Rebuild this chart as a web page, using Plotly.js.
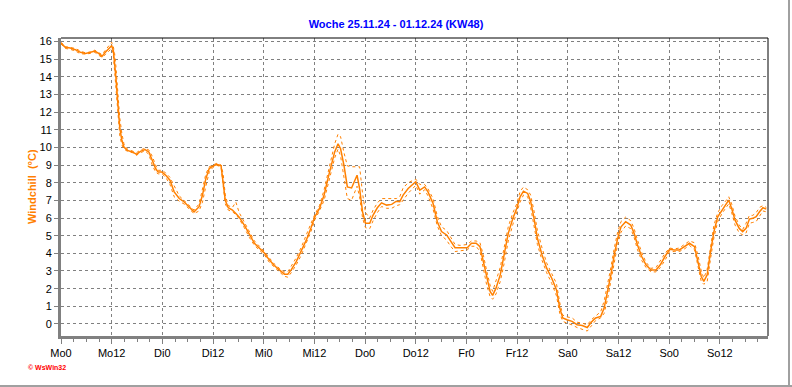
<!DOCTYPE html>
<html>
<head>
<meta charset="utf-8">
<script src="https://cdn.plot.ly/plotly-3.0.1.min.js"></script>
<style>
  html, body { margin: 0; padding: 0; background: #fff; }
  #wrap { position: relative; width: 792px; height: 387px; overflow: hidden; }
  #chart { width: 792px; height: 387px; }
  .frameR { position: absolute; left: 788px; top: 0; width: 2px; height: 387px; background: #a0a0a0; }
  .frameB { position: absolute; left: 0; top: 385px; width: 792px; height: 2px; background: #a0a0a0; }
</style>
</head>
<body>
<div id="wrap">
  <div id="chart"></div>
  <div class="frameR"></div>
  <div class="frameB"></div>
</div>
<script>
// Hours since Monday 00:00
const hours = [
  0, 1, 2.2, 3.4, 4.6, 5.8, 7, 8, 9, 9.7,
  10.5, 11.3, 12, 12.4, 12.7, 13, 13.3, 13.6, 13.9, 14.4,
  14.9, 15.7, 16.9, 17.9, 18.8, 19.9, 20.8, 21.6, 22.4, 23,
  23.9, 24.8, 25.8, 26.8, 28, 29.1, 30.3, 31.5, 32.7, 33.5,
  34.3, 35.1, 35.9, 36.9, 37.9, 38.4, 38.9, 39.6, 40.6, 41.4,
  42.2,
  43.4, 44.6, 45.8, 47, 48.2, 49.3, 50.5, 51.7, 52.9, 53.7,
  54.5, 55.7, 56.9, 58.1, 59.2, 60.1, 61.2, 62.3, 63.2, 64,
  64.8, 65.6, 66.2, 67, 67.8, 68.8, 69.5, 70.1, 70.7, 71.4,
  72.1, 73.1, 73.9, 74.9, 75.9, 77.1, 78.3, 79.4, 80.2, 81,
  82.2, 83.4,
  84, 84.95, 86.1, 86.9, 88.1, 89.1, 90.1, 91.3, 92.1, 93.3,
  94.5, 96.2, 97.2, 98.3, 99.2, 100, 100.8, 101.6, 102.2, 103,
  104, 104.9, 105.9, 107, 107.9, 108.7, 109.5, 110.5, 111.2, 112,
  112.8, 113.9, 115, 116.2, 117.3, 118.1, 118.8, 119.8, 121, 122.2,
  123.4, 124.6, 125.6,
  126.6, 127.8, 128.6, 129.4, 130.2, 131, 131.8, 132.6, 133.7, 134.9,
  135.7, 136.5, 137.5, 138.5, 139.7, 140.9, 141.9, 143, 144.1, 145.2,
  146.4, 147.6, 148.8, 150, 150.8, 151.6, 152.2, 153, 153.8, 154.6,
  155.5, 156.5, 157.5, 158.1, 158.8, 159.6, 160.6, 161.4, 162.2, 163,
  163.8, 164.6, 165.4, 166.2, 167
];

// Windchill mean (°C)
const windchill = [
  15.9, 15.66, 15.62, 15.53, 15.38, 15.32, 15.38, 15.45, 15.3, 15.15,
  15.38, 15.6, 15.75, 15.47, 14.8, 13.97, 13.0, 12.0, 11.15, 10.4,
  10.02, 9.83, 9.74, 9.6, 9.77, 9.87, 9.74, 9.27, 8.8, 8.6,
  8.6, 8.42, 8.14, 7.48, 7.1, 6.92, 6.64, 6.35, 6.64, 7.3,
  8.23, 8.8, 8.93, 9.04, 8.95, 8.05, 7.0, 6.58, 6.45, 6.26,
  6.05,
  5.6, 5.04, 4.57, 4.29, 4.0, 3.63, 3.31, 3.06, 2.82, 2.82,
  3.06, 3.53, 4.1, 4.76, 5.45, 6.07, 6.54, 7.3, 8.23, 9.08,
  9.74, 10.2, 9.92, 8.98, 7.76, 7.7, 8.05, 8.42, 7.67, 6.35,
  5.7, 5.7, 6.17, 6.58, 6.86, 6.73, 6.77, 6.95, 6.92, 7.3,
  7.67, 7.95,
  8.05, 7.58, 7.76, 7.48, 6.82, 5.79, 5.23, 5.04, 4.76, 4.32,
  4.32, 4.32, 4.57, 4.57, 4.38, 3.53, 2.59, 1.84, 1.62, 2.03,
  2.78, 3.82, 5.13, 5.98, 6.54, 7.2, 7.52, 7.39, 6.95, 5.98,
  4.85, 3.91, 3.16, 2.59, 1.94, 0.9, 0.34, 0.24, 0.15, -0.04,
  -0.09, -0.2, 0.11,
  0.34, 0.43, 0.9, 1.75, 2.78, 3.91, 4.85, 5.5, 5.79, 5.6,
  5.13, 4.47, 3.82, 3.35, 3.06, 3.06, 3.35, 3.82, 4.23, 4.19,
  4.19, 4.38, 4.57, 4.38, 3.53, 2.69, 2.41, 2.78, 4.1, 5.23,
  6.07, 6.45, 6.82, 7.01, 6.54, 5.88, 5.41, 5.23, 5.41, 5.94,
  5.98, 6.07, 6.35, 6.58, 6.5
];

// Windchill maximum (°C)
const windchillMax = [
  15.95, 15.7, 15.65, 15.6, 15.45, 15.35, 15.4, 15.5, 15.35, 15.25,
  15.5, 15.75, 15.95, 15.7, 15.3, 14.6, 13.6, 12.6, 11.7, 10.8,
  10.2, 9.9, 9.8, 9.7, 9.85, 9.95, 9.85, 9.5, 9.0, 8.7,
  8.7, 8.55, 8.3, 7.8, 7.25, 7.0, 6.75, 6.45, 6.8, 7.6,
  8.5, 8.9, 9.0, 9.1, 9.0, 8.5, 7.3, 6.7, 6.6, 6.9,
  6.3,
  5.75, 5.2, 4.7, 4.4, 4.1, 3.75, 3.4, 3.15, 2.95, 2.95,
  3.25, 3.75, 4.35, 5.0, 5.7, 6.2, 6.7, 7.6, 8.6, 9.5,
  10.2, 10.75, 10.6, 9.7, 8.95, 8.9, 8.9, 8.9, 8.9, 7.4,
  6.3, 6.0, 6.45, 6.85, 7.1, 7.1, 7.1, 7.1, 7.2, 7.7,
  8.0, 8.15,
  8.2, 7.9, 7.9, 7.65, 7.1, 6.1, 5.5, 5.3, 5.0, 4.5,
  4.45, 4.5, 4.7, 4.7, 4.6, 3.9, 3.0, 2.2, 1.85, 2.4,
  3.2, 4.3, 5.5, 6.3, 6.8, 7.5, 7.75, 7.6, 7.3, 6.4,
  5.3, 4.3, 3.45, 2.85, 2.3, 1.2, 0.5, 0.4, 0.35, 0.1,
  0.05, -0.05, 0.25,
  0.45, 0.7, 1.3, 2.2, 3.2, 4.3, 5.2, 5.8, 6.05, 5.85,
  5.4, 4.75, 4.05, 3.5, 3.15, 3.2, 3.55, 4.0, 4.3, 4.25,
  4.3, 4.5, 4.7, 4.6, 3.9, 3.0, 2.6, 3.1, 4.5, 5.6,
  6.3, 6.7, 7.0, 7.2, 6.8, 6.1, 5.6, 5.35, 5.7, 6.15,
  6.15, 6.3, 6.6, 6.7, 6.6
];

// Windchill minimum (°C)
const windchillMin = [
  15.85, 15.6, 15.55, 15.45, 15.3, 15.28, 15.32, 15.38, 15.2, 15.1,
  15.25, 15.45, 15.6, 15.2, 14.3, 13.4, 12.4, 11.5, 10.7, 10.15,
  9.9, 9.78, 9.7, 9.55, 9.7, 9.8, 9.6, 9.0, 8.6, 8.5,
  8.5, 8.3, 7.9, 7.2, 6.95, 6.8, 6.5, 6.25, 6.4, 6.9,
  7.8, 8.6, 8.85, 8.98, 8.9, 7.8, 6.8, 6.45, 6.35, 6.2,
  5.95,
  5.45, 4.9, 4.45, 4.2, 3.9, 3.5, 3.2, 2.95, 2.7, 2.65,
  2.9, 3.35, 3.9, 4.55, 5.25, 5.9, 6.4, 7.0, 7.9, 8.7,
  9.4, 9.9, 9.5, 8.3, 7.1, 7.0, 7.4, 7.8, 7.2, 6.0,
  5.45, 5.4, 5.85, 6.3, 6.65, 6.55, 6.55, 6.7, 6.75, 7.0,
  7.4, 7.7,
  7.85, 7.35, 7.6, 7.25, 6.5, 5.55, 5.0, 4.75, 4.45, 4.1,
  4.15, 4.2, 4.4, 4.4, 4.1, 3.1, 2.2, 1.55, 1.4, 1.7,
  2.4, 3.4, 4.7, 5.65, 6.25, 6.9, 7.3, 7.2, 6.6, 5.6,
  4.5, 3.6, 2.9, 2.3, 1.6, 0.6, 0.15, 0.05, -0.05, -0.2,
  -0.3, -0.4, -0.1,
  0.2, 0.35, 0.6, 1.4, 2.4, 3.5, 4.5, 5.2, 5.55, 5.4,
  4.9, 4.2, 3.6, 3.2, 2.95, 2.95, 3.2, 3.6, 4.1, 4.1,
  4.1, 4.25, 4.45, 4.2, 3.2, 2.4, 2.25, 2.4, 3.7, 4.9,
  5.8, 6.25, 6.6, 6.8, 6.3, 5.6, 5.15, 5.05, 5.15, 5.7,
  5.75, 5.8, 6.1, 6.4, 6.35
];

const dayLabels = ['Mo0','Mo12','Di0','Di12','Mi0','Mi12','Do0','Do12','Fr0','Fr12','Sa0','Sa12','So0','So12'];
const tickHours = dayLabels.map((_, i) => i * 12);

const orange = '#FF8000';
const grey = '#808080';
const fontFam = '"Liberation Sans", Arial, sans-serif';

const traces = [
  { x: hours, y: windchillMax, type: 'scatter', mode: 'lines', line: { color: orange, width: 1, dash: 'dot' }, hoverinfo: 'skip', showlegend: false },
  { x: hours, y: windchillMin, type: 'scatter', mode: 'lines', line: { color: orange, width: 1, dash: 'dot' }, hoverinfo: 'skip', showlegend: false },
  { x: hours, y: windchill, type: 'scatter', mode: 'lines', line: { color: orange, width: 1.5 }, showlegend: false }
];

const layout = {
  width: 792,
  height: 387,
  margin: { l: 61, r: 24, t: 38, b: 51, pad: 0 },
  paper_bgcolor: '#ffffff',
  plot_bgcolor: '#ffffff',
  font: { family: fontFam, size: 11, color: '#000000' },
  title: {
    text: '<b>Woche 25.11.24 - 01.12.24 (KW48)</b>',
    font: { family: fontFam, size: 11, color: '#0000FF' },
    x: 0.5, xref: 'container', xanchor: 'center',
    y: 1 - 24 / 387, yref: 'container', yanchor: 'middle'
  },
  xaxis: {
    range: [0, 167.4],
    tickmode: 'array',
    tickvals: tickHours,
    ticktext: dayLabels,
    ticks: 'outside', ticklen: 5, tickwidth: 1, tickcolor: grey,
    showline: true, linecolor: grey, linewidth: 3,
    showgrid: true, gridcolor: grey, gridwidth: 1, griddash: '3px,3px',
    zeroline: false,
    tickfont: { family: fontFam, size: 11, color: '#000000' },
    minor: { dtick: 3, tick0: 0, ticks: 'outside', ticklen: 3, tickcolor: grey, tickwidth: 1, showgrid: false }
  },
  yaxis: {
    range: [-0.68, 16.19],
    tickmode: 'linear', tick0: 0, dtick: 1,
    ticks: 'outside', ticklen: 4, tickwidth: 1, tickcolor: grey,
    showline: true, linecolor: grey, linewidth: 3,
    showgrid: true, gridcolor: grey, gridwidth: 1, griddash: '3px,3px',
    zeroline: false,
    tickfont: { family: fontFam, size: 11, color: '#000000' }
  },
  shapes: [
    { type: 'line', xref: 'paper', yref: 'paper', x0: 0, x1: 1, y0: 1, y1: 1, line: { color: '#000000', width: 1 } },
    { type: 'line', xref: 'paper', yref: 'paper', x0: 1, x1: 1, y0: 0, y1: 1, line: { color: '#000000', width: 1 } }
  ],
  annotations: [
    {
      text: '<b>Windchill  (°C)</b>',
      xref: 'paper', yref: 'paper',
      x: (32 - 61) / 707, y: 0.5,
      xanchor: 'center', yanchor: 'middle',
      textangle: -90, showarrow: false,
      font: { family: fontFam, size: 11, color: orange }
    },
    {
      text: '<b>© WsWin32</b>',
      xref: 'paper', yref: 'paper',
      x: (26 - 61) / 707, y: -(367 - 336) / 298,
      xanchor: 'left', yanchor: 'middle',
      showarrow: false,
      font: { family: fontFam, size: 7, color: '#FF0000' }
    }
  ]
};

Plotly.newPlot('chart', traces, layout, { staticPlot: true, displayModeBar: false });
</script>
</body>
</html>
